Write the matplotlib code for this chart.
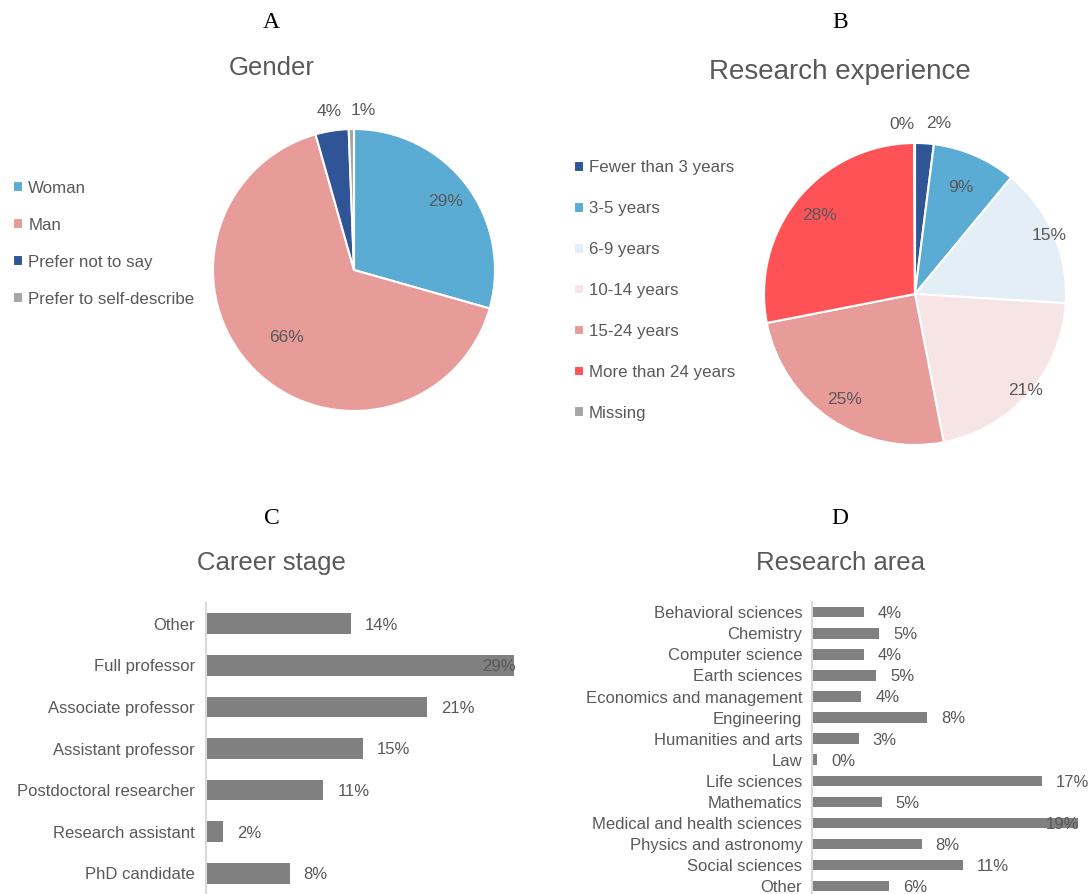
import matplotlib
matplotlib.use("Agg")
import numpy as np
import matplotlib.pyplot as plt

OUTPUT_PATH = "out.png"

TEXT_COLOR = "#595959"
BAR_COLOR = "#808080"
AXIS_COLOR = "#D9D9D9"

plt.rcParams["font.family"] = ["Liberation Sans", "DejaVu Sans"]

gender_labels = ["Woman", "Man", "Prefer not to say", "Prefer to self-describe"]
gender_values = [29.4, 66.2, 3.8, 0.6]
gender_colors = ["#5BACD4", "#E79C99", "#2F5597", "#A6A6A6"]

experience_labels = ["Fewer than 3 years", "3-5 years", "6-9 years", "10-14 years",
                     "15-24 years", "More than 24 years", "Missing"]
experience_values = [2.0, 9.0, 15.0, 21.0, 25.0, 28.0, 0.1]
experience_colors = ["#2F5597", "#5BACD4", "#E3EEF6", "#F7E4E4",
                     "#E79C99", "#FF5257", "#A6A6A6"]

career_labels = ["Other", "Full professor", "Associate professor", "Assistant professor",
                 "Postdoctoral researcher", "Research assistant", "PhD candidate"]
career_values = [13.7, 29.1, 20.9, 14.8, 11.1, 1.6, 7.9]

area_labels = ["Behavioral sciences", "Chemistry", "Computer science", "Earth sciences",
               "Economics and management", "Engineering", "Humanities and arts", "Law",
               "Life sciences", "Mathematics", "Medical and health sciences",
               "Physics and astronomy", "Social sciences", "Other"]
area_values = [3.8, 4.9, 3.8, 4.7, 3.6, 8.4, 3.4, 0.4, 16.8, 5.1, 19.4, 8.0, 11.0, 5.6]


def pct(v):
    return f"{round(v):.0f}%"


def draw_pie(fig, rect, values, colors, labels, distances, aligns, legend_anchor, spacing):
    ax = fig.add_axes(rect)
    wedges, _ = ax.pie(
        values,
        colors=colors,
        startangle=90,
        counterclock=False,
        wedgeprops=dict(edgecolor="white", linewidth=1.5),
    )
    ax.set_xlim(-1, 1)
    ax.set_ylim(-1, 1)
    ax.set_aspect("equal")
    ax.axis("off")

    for wedge, v, d, ha in zip(wedges, values, distances, aligns):
        theta = np.deg2rad((wedge.theta1 + wedge.theta2) / 2)
        ax.text(d * np.cos(theta), d * np.sin(theta), pct(v),
                ha=ha, va="center", fontsize=12.5, color=TEXT_COLOR)

    fig.legend(
        wedges, labels,
        loc="center left",
        bbox_to_anchor=legend_anchor,
        frameon=False,
        fontsize=12.2,
        labelcolor=TEXT_COLOR,
        handlelength=0.6,
        handleheight=0.6,
        handletextpad=0.3,
        labelspacing=spacing,
        borderpad=0,
        borderaxespad=0,
    )
    return ax


def draw_bars(fig, rect, labels, values, pad):
    ax = fig.add_axes(rect)
    y = np.arange(len(values))
    ax.barh(y, values, height=0.5, color=BAR_COLOR)
    ax.set_ylim(len(values) - 0.5, -0.5)
    ax.set_xlim(0, max(values))
    ax.set_yticks(y)
    ax.set_yticklabels(labels, fontsize=12, color=TEXT_COLOR)
    ax.tick_params(axis="y", length=0, pad=pad)
    ax.set_xticks([])
    for side in ["top", "right", "bottom"]:
        ax.spines[side].set_visible(False)
    ax.spines["left"].set_color(AXIS_COLOR)
    ax.spines["left"].set_linewidth(1.5)

    vmax = max(values)
    for yi, v in zip(y, values):
        if v == vmax:
            ax.annotate(pct(v), (v, yi), xytext=(1, -1), textcoords="offset points",
                        ha="right", va="center", fontsize=12, color=TEXT_COLOR,
                        annotation_clip=False)
        else:
            ax.annotate(pct(v), (v, yi), xytext=(10, -1), textcoords="offset points",
                        ha="left", va="center", fontsize=12, color=TEXT_COLOR,
                        annotation_clip=False)
    return ax


def main():
    fig = plt.figure(figsize=(10.91, 8.94), dpi=100)

    # panel letters and titles
    for x, y, s in [(0.249, 0.975, "A"), (0.770, 0.975, "B"),
                    (0.249, 0.42, "C"), (0.770, 0.42, "D")]:
        fig.text(x, y, s, ha="center", va="center", fontsize=17,
                 family="Liberation Serif", color="black")
    fig.text(0.249, 0.924, "Gender", ha="center", va="center", fontsize=18.5, color=TEXT_COLOR)
    fig.text(0.770, 0.920, "Research experience", ha="center", va="center", fontsize=20,
             color=TEXT_COLOR)
    fig.text(0.249, 0.370, "Career stage", ha="center", va="center", fontsize=18.5,
             color=TEXT_COLOR)
    fig.text(0.770, 0.370, "Research area", ha="center", va="center", fontsize=18.5,
             color=TEXT_COLOR)

    draw_pie(fig, [213 / 1091, 483 / 894, 282 / 1091, 282 / 894],
             gender_values, gender_colors, gender_labels,
             distances=[0.81, 0.68, 1.14, 1.13],
             aligns=["center", "center", "center", "left"],
             legend_anchor=(0.012, 0.7275), spacing=1.3)

    draw_pie(fig, [764 / 1091, 449 / 894, 302 / 1091, 302 / 894],
             experience_values, experience_colors, experience_labels,
             distances=[1.13, 0.77, 0.97, 0.97, 0.84, 0.82, 1.12],
             aligns=["left", "center", "center", "center", "center", "center", "right"],
             legend_anchor=(0.526, 0.675), spacing=1.53)

    draw_bars(fig, [206 / 1091, 0.0, 308 / 1091, 291 / 894],
              career_labels, career_values, pad=8)
    draw_bars(fig, [812 / 1091, -0.003, 266 / 1091, 295 / 894],
              area_labels, area_values, pad=7)

    fig.savefig(OUTPUT_PATH, dpi=100)
    plt.close(fig)


if __name__ == "__main__":
    main()
